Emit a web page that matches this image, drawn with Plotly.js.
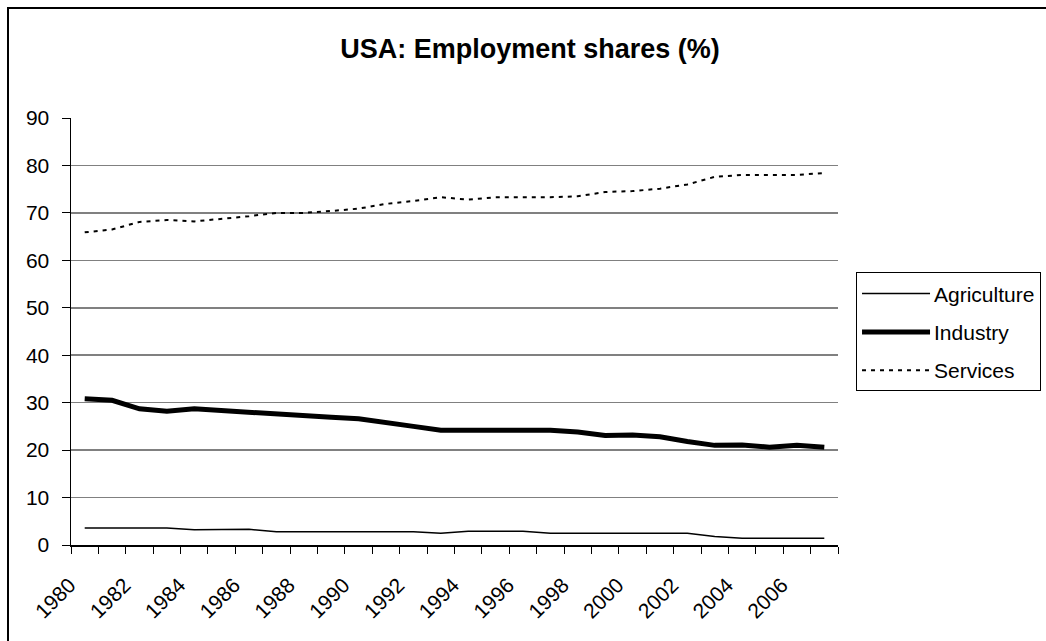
<!DOCTYPE html>
<html>
<head>
<meta charset="utf-8">
<script src="https://cdn.plot.ly/plotly-3.0.1.min.js"></script>
<style>
  html, body { margin: 0; padding: 0; background: #fff; overflow: hidden; }
  #wrap { position: relative; width: 1046px; height: 641px; }
  #frame { position: absolute; left: 7px; top: 7px; width: 1060px; height: 660px;
           border-left: 2px solid #000; border-top: 2px solid #000; pointer-events: none; z-index: 5; }
  #chart { position: absolute; left: 0; top: 0; width: 1046px; height: 641px; }
</style>
</head>
<body>
<div id="wrap">
  <div id="chart"></div>
  <div id="frame"></div>
</div>
<script>
const years = [1980,1981,1982,1983,1984,1985,1986,1987,1988,1989,1990,1991,1992,1993,
               1994,1995,1996,1997,1998,1999,2000,2001,2002,2003,2004,2005,2006,2007];
const agriculture = [3.6,3.6,3.6,3.6,3.2,3.3,3.3,2.8,2.8,2.8,2.8,2.8,2.8,2.5,
                     2.9,2.9,2.9,2.5,2.5,2.5,2.5,2.5,2.5,1.8,1.4,1.4,1.4,1.4];
const industry = [30.8,30.5,28.7,28.2,28.7,28.3,28.0,27.6,27.3,26.9,26.6,25.7,25.0,24.2,
                  24.2,24.2,24.2,24.2,23.8,23.1,23.2,22.8,21.8,21.0,21.1,20.6,21.0,20.6];
const services = [65.9,66.5,68.1,68.5,68.2,68.7,69.3,70.0,70.0,70.4,70.9,71.9,72.5,73.3,
                  72.8,73.3,73.3,73.3,73.5,74.4,74.6,75.1,76.0,77.6,78.0,78.0,78.0,78.4];
const labelYears = [1980,1982,1984,1986,1988,1990,1992,1994,1996,1998,2000,2002,2004,2006];
const titleText = "USA: Employment shares (%)";

const font = "Liberation Sans, Arial, sans-serif";

const traces = [
  { x: years, y: agriculture, name: "Agriculture", type: "scatter", mode: "lines",
    legendgroup: "a", line: { color: "#000", width: 1.5 } },
  { x: years, y: industry, name: "Industry", type: "scatter", mode: "lines",
    legendgroup: "b", line: { color: "#000", width: 5 } },
  { x: years, y: services, name: "Services", type: "scatter", mode: "lines",
    legendgroup: "c", line: { color: "#000", width: 2, dash: "4px,5px" } }
];

const layout = {
  width: 1046, height: 641,
  margin: { l: 71, r: 208, t: 118, b: 96, pad: 0, autoexpand: false },
  paper_bgcolor: "#fff", plot_bgcolor: "#fff",
  font: { family: font, size: 21, color: "#000" },
  title: { text: "<b>" + titleText + "</b>", font: { family: font, size: 27, color: "#000" },
           x: 0.5067, xref: "container", xanchor: "center", y: 0.925, yref: "container", yanchor: "middle" },
  xaxis: {
    type: "linear", range: [1979.5, 2007.5], fixedrange: true, automargin: false,
    tickmode: "array", tickvals: labelYears, ticktext: labelYears.map(String),
    ticks: "", tickangle: -45, ticklabelstandoff: 18, ticklabelshift: -15,
    showgrid: false, zeroline: false,
    showline: true, linecolor: "#000", linewidth: 1.5,
    tickfont: { family: font, size: 21, color: "#000" },
    minor: { tickmode: "linear", tick0: 1979.5, dtick: 1, ticks: "outside", ticklen: 7,
             tickcolor: "#000", tickwidth: 1, showgrid: false }
  },
  yaxis: {
    range: [0, 90], dtick: 10, tick0: 0, fixedrange: true, automargin: false,
    ticks: "outside", ticklen: 8, tickcolor: "#000", tickwidth: 1,
    ticklabelstandoff: 8,
    showgrid: true, gridcolor: "#808080", gridwidth: 1.5,
    zeroline: false, showline: true, linecolor: "#000", linewidth: 1.5,
    tickfont: { family: font, size: 21, color: "#000" }
  },
  legend: {
    x: 1.0235, xanchor: "left", y: 0.499, yanchor: "middle",
    bordercolor: "#000", borderwidth: 1, bgcolor: "#fff",
    font: { family: font, size: 21, color: "#000" },
    tracegroupgap: 8, itemwidth: 67, traceorder: "grouped"
  },
  showlegend: true
};

Plotly.newPlot("chart", traces, layout, { staticPlot: true, displayModeBar: false }).then(function (gd) {
  // lengthen the legend line samples to match the reference style
  gd.querySelectorAll(".legend .legendlines path").forEach(function (p) {
    p.setAttribute("d", "M5,0h68");
  });
});
</script>
</body>
</html>
